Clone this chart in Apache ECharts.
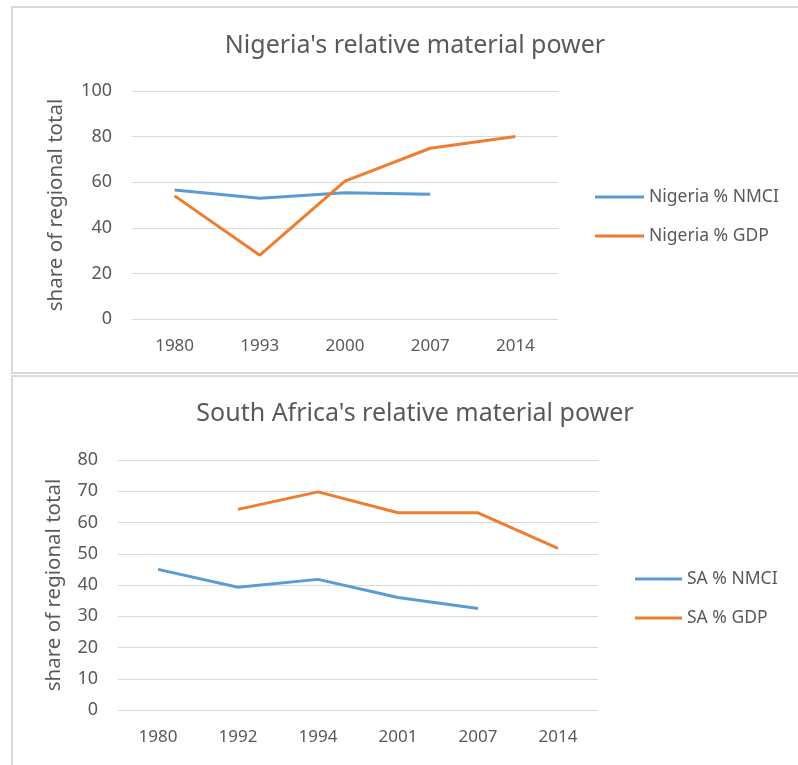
<!DOCTYPE html>
<html>
<head>
<meta charset="utf-8">
<script src="https://cdn.jsdelivr.net/npm/echarts@6/dist/echarts.min.js"></script>
<style>
  html, body { margin: 0; padding: 0; background: #fff; }
  #main { width: 798px; height: 765px; }
</style>
</head>
<body>
<div id="main"></div>
<script>
// Nigeria chart data
var ngYears = ['1980', '1993', '2000', '2007', '2014']
var ngNmci = [56.6, 53, 55.4, 54.7, null]
var ngGdp = [54, 28, 60.5, 74.9, 80]

// South Africa chart data
var saYears = ['1980', '1992', '1994', '2001', '2007', '2014']
var saNmci = [45, 39.3, 41.8, 36, 32.5, null]
var saGdp = [null, 64.2, 69.8, 63.1, 63.1, 51.7]

var textColor = '#595959'
var font = 'Noto Sans'
var blue = '#5B9BD5'
var orange = '#ED7D31'

var chart = echarts.init(document.getElementById('main'))

function xAxisFor (idx, data) {
  return {
    type: 'category',
    gridIndex: idx,
    data: data,
    boundaryGap: true,
    axisLine: { show: false },
    axisTick: { show: false },
    axisLabel: { color: textColor, fontSize: 17, fontFamily: font, margin: 19 }
  }
}

function yAxisFor (idx, max, interval, gap) {
  return {
    type: 'value',
    gridIndex: idx,
    min: 0,
    max: max,
    interval: interval,
    name: 'share of regional total',
    nameLocation: 'middle',
    nameGap: gap,
    nameRotate: 90,
    nameTextStyle: { color: textColor, fontSize: 20.5, fontFamily: font },
    axisLine: { show: false },
    axisTick: { show: false },
    axisLabel: { color: textColor, fontSize: 18, fontFamily: font, margin: 20 },
    splitLine: { lineStyle: { color: '#D9D9D9', width: 1 } }
  }
}

function lineSeries (name, idx, data, color) {
  return {
    name: name,
    type: 'line',
    xAxisIndex: idx,
    yAxisIndex: idx,
    data: data,
    showSymbol: false,
    symbol: 'none',
    lineStyle: { color: color, width: 3 },
    itemStyle: { color: color }
  }
}

var legendText = { color: textColor, fontSize: 17.5, fontFamily: font }

chart.setOption({
  animation: false,
  graphic: [
    { type: 'rect', shape: { x: 12, y: 7, width: 790, height: 366 }, style: { fill: 'none', stroke: '#D9D9D9', lineWidth: 2 } },
    { type: 'rect', shape: { x: 12, y: 376, width: 790, height: 395 }, style: { fill: 'none', stroke: '#D9D9D9', lineWidth: 2 } }
  ],
  title: [
    {
      text: "Nigeria's relative material power",
      left: 410, top: 28, textAlign: 'center',
      textStyle: { color: textColor, fontSize: 25, fontWeight: 'normal', fontFamily: font }
    },
    {
      text: "South Africa's relative material power",
      left: 410, top: 396, textAlign: 'center',
      textStyle: { color: textColor, fontSize: 25, fontWeight: 'normal', fontFamily: font }
    }
  ],
  legend: [
    {
      data: ['Nigeria % NMCI', 'Nigeria % GDP'],
      orient: 'vertical',
      left: 595, top: 188, padding: 0,
      icon: 'rect', itemWidth: 49, itemHeight: 3, itemGap: 21,
      textStyle: legendText
    },
    {
      data: ['SA % NMCI', 'SA % GDP'],
      orient: 'vertical',
      left: 635, top: 570, padding: 0,
      icon: 'rect', itemWidth: 47, itemHeight: 3, itemGap: 21,
      textStyle: legendText
    }
  ],
  grid: [
    { left: 132, top: 91, width: 426, height: 228 },
    { left: 118, top: 460, width: 480, height: 250 }
  ],
  xAxis: [xAxisFor(0, ngYears), xAxisFor(1, saYears)],
  yAxis: [yAxisFor(0, 100, 20, 65), yAxisFor(1, 80, 10, 53)],
  series: [
    lineSeries('Nigeria % NMCI', 0, ngNmci, blue),
    lineSeries('Nigeria % GDP', 0, ngGdp, orange),
    lineSeries('SA % NMCI', 1, saNmci, blue),
    lineSeries('SA % GDP', 1, saGdp, orange)
  ]
})
</script>
</body>
</html>
